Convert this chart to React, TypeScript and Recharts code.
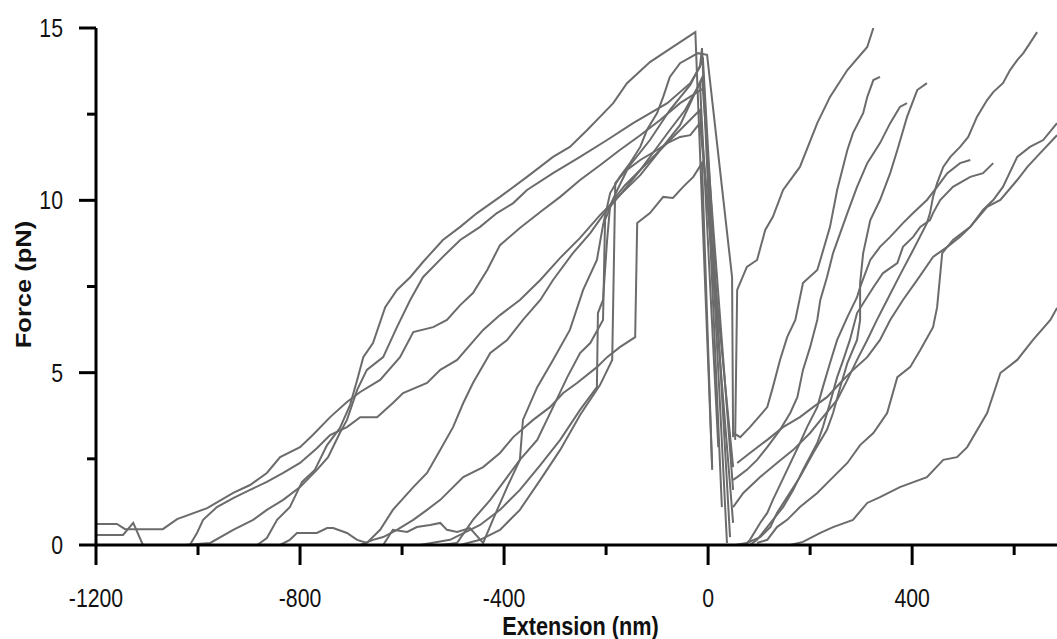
import React from 'react';
import { LineChart, Line, XAxis, YAxis } from 'recharts';

// x tick values (nm) and y tick values (pN)
const xTicks = [-1200, -1000, -800, -600, -400, -200, 0, 200, 400, 600];
const yTicks = [0, 2.5, 5, 7.5, 10, 12.5, 15];

// Approach (left) traces: [extension nm, force pN]
const L1 = [[-1200,0],[-884,0],[-865,0.2],[-845,0.73],[-820,1.1],[-796,1.83],[-771,2.18],[-747,2.9],[-722,3.39],[-702,4.06],[-688,4.79],[-676,5.45],[-657,5.86],[-633,6.9],[-610,7.4],[-584,7.77],[-559,8.21],[-520,8.85],[-486,9.23],[-453,9.63],[-408,10.1],[-355,10.68],[-304,11.26],[-271,11.55],[-237,12.04],[-212,12.42],[-186,12.82],[-159,13.4],[-114,14.01],[-69,14.45],[-25,14.88],[8,2.26]];
const L2 = [[-1200,0],[-1026,0],[-976,0.06],[-931,0.44],[-892,0.73],[-865,1.02],[-833,1.31],[-800,1.68],[-767,2.18],[-745,2.55],[-722,3.25],[-708,3.63],[-688,4.5],[-669,5.08],[-637,5.45],[-610,6.32],[-584,7.11],[-559,7.77],[-520,8.36],[-486,8.85],[-447,9.23],[-414,9.63],[-382,9.92],[-355,10.3],[-304,10.79],[-251,11.26],[-198,11.75],[-147,12.24],[-80,12.82],[-35,13.4],[-16,13.87],[-12,14.42],[27,1.1]];
const L3 = [[-1200,0.61],[-1159,0.61],[-1143,0.46],[-1069,0.46],[-1041,0.75],[-982,1.07],[-931,1.51],[-898,1.74],[-865,2.09],[-839,2.55],[-800,2.84],[-775,3.19],[-741,3.71],[-708,4.15],[-682,4.44],[-643,4.79],[-604,5.45],[-578,6.18],[-539,6.32],[-512,6.53],[-486,6.96],[-461,7.31],[-433,7.98],[-408,8.7],[-369,9.2],[-329,9.66],[-290,10.1],[-251,10.59],[-212,11.02],[-173,11.46],[-133,11.89],[-94,12.33],[-55,12.82],[-8,13.26],[37,0.06]];
const L4 = [[-1200,0.29],[-1147,0.29],[-1127,0.64],[-1108,0],[-1016,0],[-1002,0.35],[-990,0.73],[-963,1.1],[-931,1.36],[-898,1.6],[-865,1.83],[-833,2.09],[-800,2.38],[-767,2.81],[-741,3.19],[-708,3.42],[-682,3.71],[-649,3.71],[-618,4.12],[-598,4.41],[-551,4.7],[-525,5.08],[-492,5.37],[-467,5.8],[-441,6.24],[-408,6.67],[-369,7.11],[-329,7.69],[-290,8.33],[-251,8.91],[-212,9.57],[-173,10.15],[-133,10.73],[-94,11.46],[-55,12.18],[-12,13.55],[49,1.6]];
const L5 = [[-839,0],[-820,0.15],[-806,0.35],[-767,0.35],[-747,0.49],[-735,0.49],[-708,0.35],[-688,0.15],[-669,0.06],[-643,0.44],[-618,1.02],[-578,1.68],[-551,2.09],[-525,2.76],[-500,3.42],[-480,4.12],[-461,4.7],[-427,5.57],[-394,5.95],[-363,6.53],[-329,7.11],[-304,7.69],[-265,8.47],[-231,9.05],[-206,9.57],[-173,10.15],[-133,10.88],[-94,11.46],[-55,12.04],[-16,12.62],[49,0.64]];
const L6 = [[-1200,0],[-682,0],[-657,0.15],[-637,0.23],[-610,0.44],[-578,0.73],[-551,1.02],[-525,1.31],[-480,1.97],[-441,2.26],[-408,2.67],[-382,3.13],[-343,3.63],[-310,4.0],[-284,4.41],[-257,4.7],[-218,5.16],[-198,5.45],[-173,5.74],[-143,6.03],[-139,9.34],[-114,9.63],[-88,10.1],[-69,10.07],[-49,10.39],[-29,10.68],[-12,11.08],[8,2.18]];
const L7 = [[-1200,0],[-525,0],[-492,0.06],[-461,0.73],[-427,1.31],[-394,1.97],[-369,2.47],[-363,3.63],[-335,4.58],[-304,5.37],[-271,6.24],[-245,7.4],[-218,8.27],[-206,9.28],[-192,10.21],[-173,10.68],[-153,11.08],[-133,11.55],[-120,12.04],[-100,12.53],[-88,13.0],[-75,13.58],[-55,13.98],[-20,14.27],[-2,14.22],[47,7.77],[49,3.13]];
const L8 = [[-1200,0],[-637,0],[-618,0.44],[-590,0.38],[-571,0.52],[-545,0.58],[-525,0.64],[-512,0.44],[-492,0.38],[-467,0.49],[-441,0.06],[-422,0.73],[-394,1.68],[-369,2.47],[-335,3.05],[-304,4.0],[-276,4.87],[-251,5.57],[-231,5.86],[-206,6.53],[-202,9.43],[-186,10.01],[-163,10.44],[-133,10.88],[-104,11.46],[-75,12.04],[-45,12.62],[-16,13.4],[20,2.84]];
const L9 = [[-1200,0],[-565,0],[-506,0.15],[-447,0.58],[-408,1.02],[-369,1.6],[-329,2.32],[-290,3.05],[-251,3.92],[-218,4.58],[-216,6.73],[-206,7.11],[-198,8.85],[-192,9.86],[-178,10.3],[-159,10.88],[-133,11.17],[-100,11.46],[-80,11.66],[-55,11.84],[-35,11.89],[-16,12.24],[49,2.26]];
const L10 = [[-1200,0],[-486,0],[-447,0.15],[-408,0.44],[-369,1.02],[-329,1.89],[-290,2.76],[-251,3.77],[-212,4.64],[-188,5.37],[-182,10.5],[-153,11.02],[-114,11.75],[-75,12.62],[-35,13.35],[-10,14.07],[43,0.23]];

// Stretch (right) traces
const Ra = [[53,3.05],[57,7.4],[76,8.07],[96,8.27],[112,9.14],[127,9.52],[147,10.3],[180,10.97],[214,12.24],[239,13.0],[273,13.78],[312,14.45],[324,15.0]];
const Rb = [[49,3.25],[63,3.13],[82,3.42],[116,4.0],[127,4.58],[141,5.37],[155,6.03],[171,6.53],[186,7.6],[214,7.98],[220,8.27],[239,9.23],[253,10.3],[273,11.46],[284,11.95],[304,12.53],[312,13.0],[324,13.49],[337,13.58]];
const Rc = [[53,0],[76,0.06],[102,0.23],[122,0.52],[135,0.93],[155,1.39],[180,1.97],[206,2.67],[233,3.34],[245,3.83],[259,4.58],[273,5.28],[292,5.95],[298,6.53],[298,7.6],[304,8.47],[318,9.43],[337,10.01],[357,10.79],[371,11.46],[390,12.42],[410,13.2],[429,13.4]];
const Rd = [[49,1.89],[57,1.97],[76,2.18],[96,2.47],[116,2.84],[141,3.34],[161,3.83],[175,4.29],[186,5.08],[200,5.74],[214,6.53],[220,7.11],[233,7.77],[245,8.47],[259,9.05],[273,9.63],[292,10.39],[312,11.08],[337,11.66],[357,12.24],[376,12.71],[390,12.82]];
const Re = [[73,0],[82,0.15],[102,0.64],[116,0.93],[127,1.31],[155,2.18],[180,2.96],[194,3.42],[214,4.0],[225,4.58],[239,5.28],[253,5.95],[273,6.61],[292,7.19],[298,7.48],[318,8.27],[337,8.65],[357,8.94],[382,9.34],[402,9.63],[429,10.01],[449,10.39],[469,10.79],[494,11.08],[514,11.17]];
const Rf = [[82,0],[96,0.15],[127,0.73],[147,1.1],[167,1.6],[186,2.18],[214,2.96],[225,3.42],[239,4.12],[253,4.87],[265,5.37],[278,5.95],[292,6.73],[324,7.48],[343,7.89],[371,8.18],[382,8.65],[402,8.94],[416,9.23],[435,9.43],[441,9.63],[455,10.01],[480,10.39],[514,10.68],[539,10.79],[559,11.08]];
const Rg = [[57,2.38],[82,2.67],[116,3.05],[147,3.42],[180,3.71],[206,4.0],[233,4.29],[259,4.7],[284,5.08],[312,5.45],[337,5.95],[357,6.53],[382,7.11],[410,7.69],[441,8.36],[469,8.65],[494,8.94],[514,9.23],[539,9.72],[559,10.01],[578,10.39],[606,11.26],[631,11.55],[657,11.75],[684,12.24]];
const Rh = [[96,0.06],[116,0.15],[135,0.52],[155,0.73],[180,1.1],[214,1.51],[245,1.97],[273,2.38],[298,2.9],[324,3.25],[351,3.83],[371,4.87],[396,5.16],[416,5.66],[441,6.32],[449,6.9],[459,8.47],[480,8.85],[514,9.23],[547,9.81],[573,10.01],[606,10.59],[626,10.97],[651,11.37],[684,11.89]];
const Ri = [[161,0],[186,0.09],[220,0.35],[245,0.52],[284,0.73],[312,1.22],[337,1.39],[376,1.68],[429,1.97],[461,2.47],[488,2.55],[508,2.84],[547,3.83],[573,4.99],[606,5.37],[637,5.95],[671,6.53],[684,6.88]];
const Rj = [[49,1.1],[69,1.51],[102,1.97],[135,2.38],[167,2.76],[200,3.25],[225,3.71],[253,4.21],[273,4.79],[292,5.37],[312,5.95],[331,6.53],[351,7.11],[376,7.83],[402,8.56],[429,9.34],[435,9.63],[441,10.1],[449,10.5],[461,10.97],[475,11.26],[494,11.55],[510,11.84],[527,12.42],[547,12.91],[559,13.14],[578,13.4],[592,13.78],[606,14.07],[618,14.27],[631,14.56],[645,14.88]];

const traces = [L1, L2, L3, L4, L5, L6, L7, L8, L9, L10, Ra, Rb, Rc, Rd, Re, Rf, Rg, Rh, Ri, Rj];
const toPoints = (arr: number[][]) => arr.map(([x, y]) => ({ x, y }));

const FONT = 'Liberation Sans, Arial, Helvetica, sans-serif';
const LINE_COLOR = '#6b6b6b';

const XTick = (props: any) => {
  const { x, y, payload } = props;
  const major = payload.value % 400 === 0;
  return (
    <g>
      <line x1={x} x2={x} y1={y} y2={y + (major ? 20 : 10)} stroke="#000" strokeWidth={3} />
      {major && (
        <text
          transform={`translate(${x},${y + 62}) scale(0.85,1)`}
          textAnchor="middle"
          fontFamily={FONT}
          fontSize={25}
          fill="#111"
        >
          {payload.value}
        </text>
      )}
    </g>
  );
};

const YTick = (props: any) => {
  const { x, y, payload } = props;
  const major = payload.value % 5 === 0;
  return (
    <g>
      <line x1={x - (major ? 17 : 9)} x2={x} y1={y} y2={y} stroke="#000" strokeWidth={3} />
      {major && (
        <text
          transform={`translate(${x - 33},${y + 9}) scale(0.85,1)`}
          textAnchor="end"
          fontFamily={FONT}
          fontSize={25}
          fill="#111"
        >
          {payload.value}
        </text>
      )}
    </g>
  );
};

const XTitle = (props: any) => {
  const vb = props.viewBox || {};
  return (
    <text
      transform={`translate(${vb.x + vb.width / 2 + 4},${vb.y + 90}) scale(0.85,1)`}
      textAnchor="middle"
      fontFamily={FONT}
      fontWeight={700}
      fontSize={25.5}
      fill="#111"
    >
      Extension (nm)
    </text>
  );
};

const YTitle = (props: any) => {
  const vb = props.viewBox || {};
  return (
    <text
      transform={`translate(${vb.x + 31},${vb.y + vb.height / 2 - 2}) rotate(-90) scale(1,0.85)`}
      textAnchor="middle"
      fontFamily={FONT}
      fontWeight={700}
      fontSize={25.5}
      fill="#111"
    >
      Force (pN)
    </text>
  );
};

export default function App() {
  return (
    <div style={{ position: 'absolute', left: 0, top: 0, width: 1057, height: 639, background: '#fff' }}>
      <LineChart width={1057} height={639} margin={{ top: 28, right: 0, bottom: 0, left: 0 }}>
        <XAxis
          type="number"
          dataKey="x"
          domain={[-1200, 684]}
          ticks={xTicks}
          interval={0}
          height={94}
          tickSize={0}
          tickMargin={0}
          tickLine={false}
          axisLine={{ stroke: '#000', strokeWidth: 3 }}
          tick={<XTick />}
          label={<XTitle />}
          allowDataOverflow
        />
        <YAxis
          type="number"
          domain={[0, 15]}
          ticks={yTicks}
          interval={0}
          width={96}
          tickSize={0}
          tickMargin={0}
          tickLine={false}
          axisLine={{ stroke: '#000', strokeWidth: 3 }}
          tick={<YTick />}
          label={<YTitle />}
          allowDataOverflow
        />
        {traces.map((t, i) => (
          <Line
            key={i}
            data={toPoints(t)}
            dataKey="y"
            type="linear"
            dot={false}
            activeDot={false}
            stroke={LINE_COLOR}
            strokeWidth={2}
            isAnimationActive={false}
          />
        ))}
      </LineChart>
    </div>
  );
}
